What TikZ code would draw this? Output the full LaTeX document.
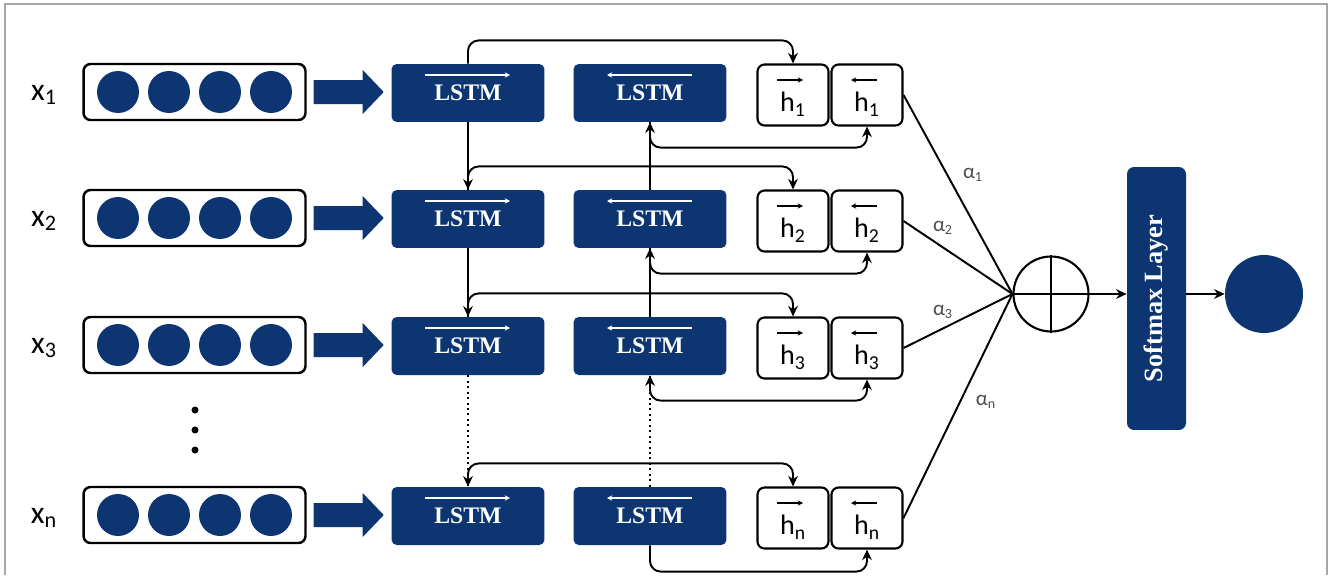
\documentclass[tikz,border=0pt]{standalone}
\usepackage{fontspec}
\setsansfont{Carlito}
\newfontfamily\lstmfont{Liberation Serif}
\usepackage{graphicx}
\usepackage{tikz}
\usetikzlibrary{positioning, arrows.meta, calc}
\definecolor{navy}{HTML}{0C3571}

\tikzset{
  lstm/.style={fill=navy, rounded corners=3pt, minimum width=3.06cm, minimum height=1.16cm,
    inner sep=0pt, text=white, font=\lstmfont\bfseries\fontsize{13.5}{15}\selectfont},
  inbox/.style={draw, line width=1.4pt, rounded corners=4pt, minimum width=4.44cm, minimum height=1.12cm},
  cell/.style={circle, fill=navy, minimum size=0.84cm, inner sep=0pt},
  hbox/.style={draw, line width=1.2pt, rounded corners=4pt, minimum width=1.42cm, minimum height=1.22cm,
    inner sep=0pt, text height=19pt, text depth=0pt, font=\sffamily\fontsize{16}{18}\selectfont},
  xlab/.style={font=\sffamily\fontsize{18}{20}\selectfont},
  alab/.style={font=\sffamily\fontsize{12}{14}\selectfont, text=black!70},
  conn/.style={line width=1.1pt, rounded corners=6pt},
  arr/.style={-{Stealth[length=6pt,width=5.5pt]}},
  arrboth/.style={{Stealth[length=6pt,width=5.5pt]}-{Stealth[length=6pt,width=5.5pt]}},
  small arr/.style={white, line width=0.8pt, -{Stealth[length=3pt,width=3pt]}},
  harr/.style={line width=0.8pt, -{Stealth[length=3pt,width=3pt]}}
}

\begin{document}
\begin{tikzpicture}[x=0.02cm, y=-0.02cm]
\useasboundingbox (0,0) rectangle (1329,575);

% --- Frame ---
\draw[gray!70, line width=1.2pt] (5,575) -- (5,4) -- (1327,4) -- (1327,575);

% --- Rows: input, LSTM cells, hidden states ---
\foreach \r/\y in {1/93, 2/219, 3/346, n/516}{
  \node[xlab] (x\r) at (44,\y+2) {x\textsubscript{\r}};
  \node[inbox] (in\r) at (194.5,\y-1) {};
  \foreach \k/\dx in {1/-76.5, 2/-25.5, 3/25.5, 4/76.5}
    \node[cell] (c\r\k) at ($(in\r.center)+(\dx,0)$) {};
  \fill[navy] ($(in\r.east)+(7,-12)$) -- ++(49,0) -- ++(0,-10) -- ++(21,22)
    -- ++(-21,22) -- ++(0,-10) -- ++(-49,0) -- cycle;
  \node[lstm] (f\r) at (468,\y) {LSTM};
  \node[lstm] (b\r) at (650,\y) {LSTM};
  \draw[small arr] ($(f\r.center)+(-43,-18)$) -- ($(f\r.center)+(42,-18)$);
  \draw[small arr] ($(b\r.center)+(42,-18)$) -- ($(b\r.center)+(-43,-18)$);
  \node[hbox] (hf\r) at (793,\y+2) {h\textsubscript{\r}};
  \node[hbox] (hb\r) at (867,\y+2) {h\textsubscript{\r}};
  \draw[harr] ($(hf\r.center)+(-16,-15)$) -- ($(hf\r.center)+(10,-15)$);
  \draw[harr] ($(hb\r.center)+(10,-15)$) -- ($(hb\r.center)+(-16,-15)$);
}

% --- Vertical dots ---
\foreach \d in {410,430,450}
  \fill (195,\d) circle (2pt);

% --- Forward direction ---
\draw[conn] (f1.south) -- (f2.north);
\draw[conn] (f2.south) -- (f3.north);
\draw[conn, dotted] (f3.south) -- (fn.north);
\draw[conn, arr] (f1.north) |- ($(hf1.north)+(0,-23)$) -- (hf1.north);
\foreach \r in {2,3,n}
  \draw[conn, arrboth] (f\r.north) |- ($(hf\r.north)+(0,-23)$) -- (hf\r.north);

% --- Backward direction ---
\draw[conn] (b2.north) -- (b1.south);
\draw[conn] (b3.north) -- (b2.south);
\draw[conn, dotted] (bn.north) -- (b3.south);
\foreach \r in {1,2,3}
  \draw[conn, arrboth] (b\r.south) |- ($(hb\r.south)+(0,21)$) -- (hb\r.south);
\draw[conn, arr] (bn.south) |- ($(hbn.south)+(0,22)$) -- (hbn.south);

% --- Attention and output ---
\node[draw, circle, line width=1.2pt, minimum size=1.5cm, inner sep=0pt] (sum) at (1051,294) {};
\draw[line width=1.2pt] (sum.north) -- (sum.south) (sum.west) -- (sum.east);
\foreach \r in {1,2,3,n}
  \draw[line width=1.1pt] (hb\r.east) -- (sum.west);
\node[alab] (a1) at (973,175) {α\textsubscript{1}};
\node[alab] (a2) at (943,228) {α\textsubscript{2}};
\node[alab] (a3) at (943,312) {α\textsubscript{3}};
\node[alab] (an) at (986,402) {α\textsubscript{n}};

\node[fill=navy, rounded corners=4pt, minimum width=1.18cm, minimum height=5.26cm, inner sep=0pt,
  text=white, font=\lstmfont\bfseries\fontsize{15}{17}\selectfont] (soft) at (1156.5,298.5)
  {\rotatebox{90}{Softmax Layer}};
\node[cell, minimum size=1.56cm] (out) at (1264,294) {};
\draw[conn, arr] (sum.east) -- (sum.east -| soft.west);
\draw[conn, arr] (soft.east |- out.west) -- (out.west);
\end{tikzpicture}
\end{document}
